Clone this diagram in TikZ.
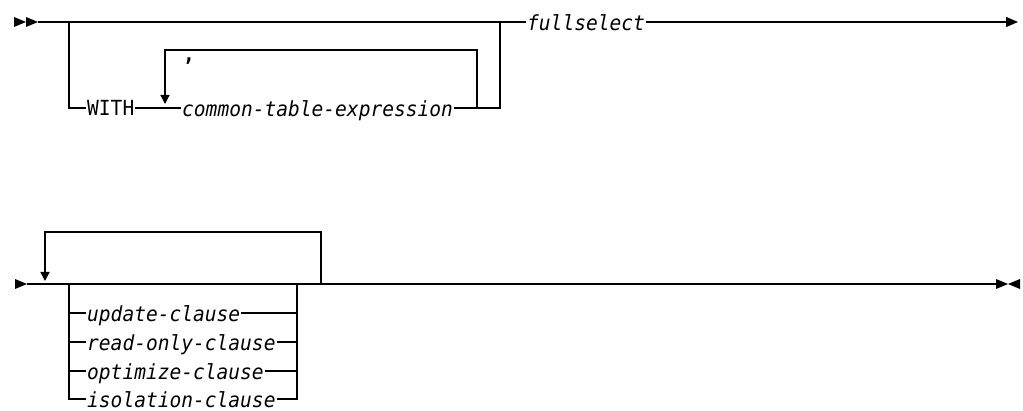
\documentclass[tikz,border=0pt]{standalone}
\usepackage{fontspec}
\newfontfamily\railfont[FakeStretch=0.94]{DejaVu Sans Mono}
\usetikzlibrary{arrows.meta}

\begin{document}
\begin{tikzpicture}[x=1pt,y=-1pt,
    rail/.style={line width=1.3pt, line join=miter},
    kw/.style={font=\railfont\fontsize{20.8}{21}\selectfont, inner xsep=1pt, inner ysep=0pt,
        text height=16pt, text depth=0pt, anchor=west},
    var/.style={kw, text height=17pt, font=\railfont\fontsize{20.8}{21}\selectfont\itshape},
    sep/.style={font=\railfont\fontsize{20.8}{21}\selectfont\bfseries, inner sep=0pt, anchor=base west},
    tip/.style={-{Triangle[length=9pt,width=9pt]}}
]
\useasboundingbox (0,0) rectangle (1023,411);

% Premiere ligne
\fill (14,17) -- (26,22) -- (14,27) -- cycle;
\fill (26,17) -- (38,22) -- (26,27) -- cycle;
\coordinate (start) at (38,22);
\coordinate (brl) at (69,22);
\coordinate (brr) at (500,22);
\coordinate (rep) at (477,50);
\coordinate (stop) at (1018,22);

\node[kw] (with) at (86,108) {WITH};
\node[var] (cte) at (181,108) {common-table-expression};
\node[var] (fullsel) at (526,22) {fullselect};
\node[sep] (comma) at (183,62) {,};

\draw[rail] (start) -- (fullsel.west);
\draw[rail] (brl) |- (with.west);
\draw[rail] (with.east) -- (cte.west);
\draw[rail] (cte.east) -| (brr);
\draw[rail, tip] (rep |- cte.east) -- (rep) -- (165,50) -- (165,104);
\draw[rail, -{Triangle[length=12pt,width=10pt]}] (fullsel.east) -- (stop);

% Deuxieme ligne
\fill (15,279) -- (27,284) -- (15,289) -- cycle;
\coordinate (go) at (27,284);
\coordinate (lft) at (69,284);
\coordinate (rgt) at (297,284);
\coordinate (back) at (321,232);
\coordinate (halt) at (996,284);

\node[var] (upd) at (86,313) {update-clause};
\node[var] (rdo) at (86,342) {read-only-clause};
\node[var] (opt) at (86,371) {optimize-clause};
\node[var] (iso) at (86,399) {isolation-clause};

\draw[rail] (go) -- (halt);
\draw[rail, tip] (back |- go) -- (back) -- (45,232) -- (45,281);
\draw[line width=2.4pt] (327,284) -- (350,284);
\draw[rail] (lft) |- (iso.west);
\draw[rail] (rgt) |- (iso.east);
\foreach \c in {upd,rdo,opt} {
    \draw[rail] (\c.west -| lft) -- (\c.west);
    \draw[rail] (\c.east) -- (\c.east -| rgt);
}

% Fin
\fill (996,279) -- (1008,284) -- (996,289) -- cycle;
\fill (1020,279) -- (1008,284) -- (1020,289) -- cycle;

\end{tikzpicture}
\end{document}
